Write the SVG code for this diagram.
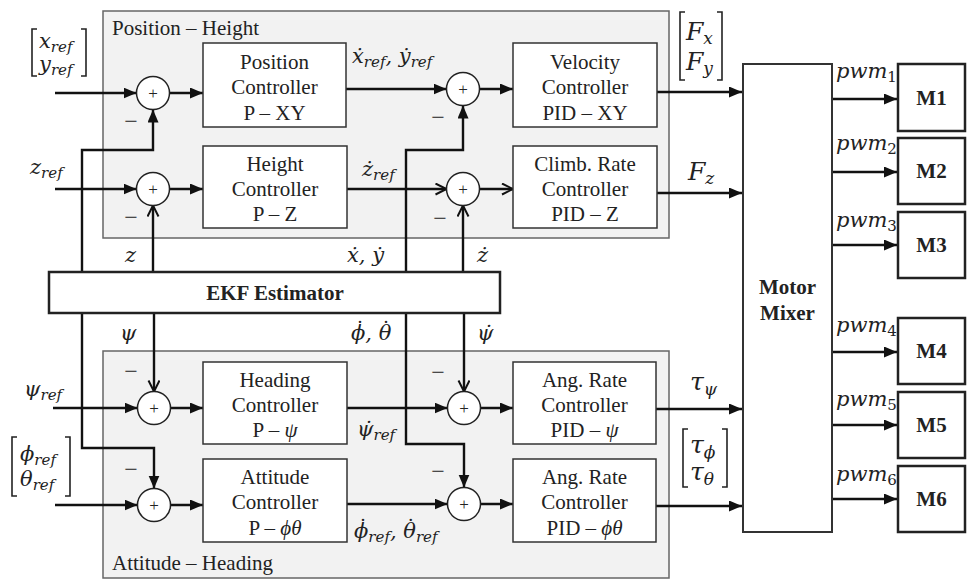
<svg xmlns="http://www.w3.org/2000/svg" width="967" height="580" viewBox="0 0 967 580">
<style>
.grp{fill:#f2f2f2;stroke:#666;stroke-width:1.5}
.box{fill:#fff;stroke:#333;stroke-width:1.5}
.tbox{fill:#fff;stroke:#222;stroke-width:2.5}
.jn{fill:#fff;stroke:#222;stroke-width:1.5}
.t{font-family:"Liberation Serif","Times New Roman",serif;font-size:21px;fill:#222;text-anchor:middle}
.b{font-weight:bold}
.st{text-anchor:start}
.m{font-family:"DejaVu Serif","Liberation Serif",serif;font-style:italic;font-size:21px;fill:#222}
.L{font-size:25px}
.sub{font-size:15px}
.sb{font-size:17px}
.pl{font-family:"Liberation Serif",serif;font-size:17px;fill:#222;text-anchor:middle}
.mi{font-family:"Liberation Serif",serif;font-size:24px;fill:#222;text-anchor:middle}
.c{fill:none;stroke:#111;stroke-width:2.4}
.br{fill:none;stroke:#222;stroke-width:1.6}
</style>
<defs>
<marker id="af" markerUnits="userSpaceOnUse" markerWidth="14" markerHeight="12" refX="13" refY="5.5" orient="auto">
<path d="M0,0 L13,5.5 L0,11 z" fill="#111"/>
</marker>
<marker id="ao" markerUnits="userSpaceOnUse" markerWidth="14" markerHeight="14" refX="12" refY="6" orient="auto">
<path d="M1,0.5 L12,6 L1,11.5" fill="none" stroke="#111" stroke-width="2"/>
</marker>
</defs>

<g id="group-position-height">
<rect class="grp" x="103" y="11" width="566" height="227"/>
<text class="t st" x="112" y="35">Position – Height</text>
</g>
<g id="group-attitude-heading">
<rect class="grp" x="103" y="351" width="566" height="227"/>
<text class="t st" x="112" y="570">Attitude – Heading</text>
</g>

<g id="connectors">
<path class="c" d="M55,93 H136.5" marker-end="url(#af)"/>
<path class="c" d="M169.5,93 H203" marker-end="url(#af)"/>
<path class="c" d="M346,89 H446.5" marker-end="url(#af)"/>
<path class="c" d="M479.5,89 H513" marker-end="url(#af)"/>
<path class="c" d="M657,92 H742" marker-end="url(#af)"/>
<path class="c" d="M55,189 H136.5" marker-end="url(#af)"/>
<path class="c" d="M169.5,189 H203" marker-end="url(#af)"/>
<path class="c" d="M347,189 H446.5" marker-end="url(#ao)"/>
<path class="c" d="M479.5,189 H513" marker-end="url(#ao)"/>
<path class="c" d="M657,193 H742" marker-end="url(#af)"/>
<path class="c" d="M82,272 V150 H153 V109.5" marker-end="url(#af)"/>
<path class="c" d="M153,272 V205.5" marker-end="url(#ao)"/>
<path class="c" d="M406,272 V150 H463 V105.5" marker-end="url(#af)"/>
<path class="c" d="M463,272 V205.5" marker-end="url(#ao)"/>
<path class="c" d="M154,313 V391.5" marker-end="url(#ao)"/>
<path class="c" d="M82,313 V448 H154 V488.5" marker-end="url(#af)"/>
<path class="c" d="M406,313 V444 H464 V487.5" marker-end="url(#af)"/>
<path class="c" d="M464,313 V391.5" marker-end="url(#ao)"/>
<path class="c" d="M53,408 H137.5" marker-end="url(#af)"/>
<path class="c" d="M170.5,408 H203" marker-end="url(#af)"/>
<path class="c" d="M347,408 H447.5" marker-end="url(#af)"/>
<path class="c" d="M480.5,408 H513" marker-end="url(#af)"/>
<path class="c" d="M656,409 H742" marker-end="url(#af)"/>
<path class="c" d="M55,505 H137.5" marker-end="url(#af)"/>
<path class="c" d="M170.5,505 H203" marker-end="url(#af)"/>
<path class="c" d="M347,504 H447.5" marker-end="url(#af)"/>
<path class="c" d="M480.5,504 H513" marker-end="url(#af)"/>
<path class="c" d="M656,506 H742" marker-end="url(#af)"/>
<path class="c" d="M832,99 H897" marker-end="url(#af)"/>
<path class="c" d="M832,172 H897" marker-end="url(#af)"/>
<path class="c" d="M832,245 H897" marker-end="url(#af)"/>
<path class="c" d="M832,352 H897" marker-end="url(#af)"/>
<path class="c" d="M832,425 H897" marker-end="url(#af)"/>
<path class="c" d="M832,499 H897" marker-end="url(#af)"/>
</g>

<g id="sum-xy"><circle class="jn" cx="153" cy="93" r="16.5"/><text class="pl" x="153" y="99">+</text></g>
<g id="sum-vxy"><circle class="jn" cx="463" cy="89" r="16.5"/><text class="pl" x="463" y="95">+</text></g>
<g id="sum-z"><circle class="jn" cx="153" cy="189" r="16.5"/><text class="pl" x="153" y="195">+</text></g>
<g id="sum-vz"><circle class="jn" cx="463" cy="189" r="16.5"/><text class="pl" x="463" y="195">+</text></g>
<g id="sum-psi"><circle class="jn" cx="154" cy="408" r="16.5"/><text class="pl" x="154" y="414">+</text></g>
<g id="sum-rpsi"><circle class="jn" cx="464" cy="408" r="16.5"/><text class="pl" x="464" y="414">+</text></g>
<g id="sum-att"><circle class="jn" cx="154" cy="505" r="16.5"/><text class="pl" x="154" y="511">+</text></g>
<g id="sum-ratt"><circle class="jn" cx="464" cy="504" r="16.5"/><text class="pl" x="464" y="510">+</text></g>

<g id="minus-signs">
<text class="mi" x="131" y="129">−</text>
<text class="mi" x="131" y="225">−</text>
<text class="mi" x="438" y="125">−</text>
<text class="mi" x="440" y="226">−</text>
<text class="mi" x="131" y="379">−</text>
<text class="mi" x="131" y="477">−</text>
<text class="mi" x="438" y="380">−</text>
<text class="mi" x="438" y="479">−</text>
</g>

<g id="position-controller"><rect class="box" x="203" y="43" width="143" height="84"/>
<text class="t" x="274.5" y="69">Position</text><text class="t" x="274.5" y="94">Controller</text><text class="t" x="274.5" y="120">P – XY</text></g>
<g id="velocity-controller"><rect class="box" x="513" y="43" width="144" height="84"/>
<text class="t" x="585" y="69">Velocity</text><text class="t" x="585" y="94">Controller</text><text class="t" x="585" y="120">PID – XY</text></g>
<g id="height-controller"><rect class="box" x="203" y="146" width="144" height="82"/>
<text class="t" x="275" y="171">Height</text><text class="t" x="275" y="196">Controller</text><text class="t" x="275" y="221">P – Z</text></g>
<g id="climb-rate-controller"><rect class="box" x="513" y="146" width="144" height="82"/>
<text class="t" x="585" y="171">Climb. Rate</text><text class="t" x="585" y="196">Controller</text><text class="t" x="585" y="221">PID – Z</text></g>
<g id="heading-controller"><rect class="box" x="203" y="362" width="144" height="82"/>
<text class="t" x="275" y="387">Heading</text><text class="t" x="275" y="412">Controller</text><text class="t" x="275" y="437">P – <tspan font-style="italic">ψ</tspan></text></g>
<g id="ang-rate-controller-psi"><rect class="box" x="513" y="362" width="143" height="82"/>
<text class="t" x="584.5" y="387">Ang. Rate</text><text class="t" x="584.5" y="412">Controller</text><text class="t" x="584.5" y="437">PID – <tspan font-style="italic">ψ</tspan></text></g>
<g id="attitude-controller"><rect class="box" x="203" y="459" width="144" height="83"/>
<text class="t" x="275" y="484">Attitude</text><text class="t" x="275" y="509">Controller</text><text class="t" x="275" y="535">P – <tspan font-style="italic">ϕθ</tspan></text></g>
<g id="ang-rate-controller-att"><rect class="box" x="513" y="459" width="143" height="83"/>
<text class="t" x="584.5" y="484">Ang. Rate</text><text class="t" x="584.5" y="509">Controller</text><text class="t" x="584.5" y="535">PID – <tspan font-style="italic">ϕθ</tspan></text></g>

<g id="ekf-estimator"><rect class="tbox" x="49" y="272" width="451" height="41"/>
<text class="t b" x="275" y="300">EKF Estimator</text></g>
<g id="motor-mixer"><rect class="box" style="stroke-width:2" x="743" y="64" width="89" height="468"/>
<text class="t b" x="787.5" y="294">Motor</text><text class="t b" x="787.5" y="320">Mixer</text></g>
<g id="m1"><rect class="tbox" x="898" y="64" width="67" height="67"/><text class="t b" x="931.5" y="105">M1</text></g>
<g id="m2"><rect class="tbox" x="898" y="138" width="67" height="66"/><text class="t b" x="931.5" y="178">M2</text></g>
<g id="m3"><rect class="tbox" x="898" y="212" width="67" height="66"/><text class="t b" x="931.5" y="252">M3</text></g>
<g id="m4"><rect class="tbox" x="898" y="318" width="67" height="66"/><text class="t b" x="931.5" y="358">M4</text></g>
<g id="m5"><rect class="tbox" x="898" y="392" width="67" height="66"/><text class="t b" x="931.5" y="432">M5</text></g>
<g id="m6"><rect class="tbox" x="898" y="466" width="67" height="66"/><text class="t b" x="931.5" y="506">M6</text></g>

<g id="labels">
<path class="br" d="M37,29 H32 V76 H37 M81,29 H86 V76 H81"/>
<text class="m" x="39" y="48">x<tspan class="sub" dy="4">ref</tspan></text>
<text class="m" x="39" y="71">y<tspan class="sub" dy="4">ref</tspan></text>
<text class="m" x="30" y="174">z<tspan class="sub" dy="4">ref</tspan></text>
<path class="br" d="M685,12 H680 V80 H685 M717,12 H722 V80 H717"/>
<text class="m L" x="686" y="40">F<tspan class="sb" dy="4">x</tspan></text>
<text class="m L" x="686" y="70">F<tspan class="sb" dy="4">y</tspan></text>
<text class="m L" x="688" y="180">F<tspan class="sb" dy="4">z</tspan></text>
<text class="m" x="352" y="63">ẋ<tspan class="sub" dy="4">ref</tspan><tspan dy="-4">, ẏ</tspan><tspan class="sub" dy="4">ref</tspan></text>
<text class="m" x="362" y="176">ż<tspan class="sub" dy="4">ref</tspan></text>
<text class="m" x="125" y="262">z</text>
<text class="m" x="347" y="262">ẋ, ẏ</text>
<text class="m" x="477" y="262">ż</text>
<text class="m" x="120" y="340">ψ</text>
<text class="m" x="351" y="340">ϕ<tspan dx="-10.5" dy="-4" font-style="normal">˙</tspan><tspan dy="4">, θ</tspan><tspan dx="-10.5" dy="-4" font-style="normal">˙</tspan></text>
<text class="m" x="477" y="340">ψ̇</text>
<text class="m" x="24" y="396">ψ<tspan class="sub" dy="4">ref</tspan></text>
<path class="br" d="M17,437 H12 V496 H17 M65,437 H70 V496 H65"/>
<text class="m" x="20" y="461">ϕ<tspan class="sub" dy="4">ref</tspan></text>
<text class="m" x="20" y="486">θ<tspan class="sub" dy="4">ref</tspan></text>
<text class="m" x="357" y="436">ψ̇<tspan class="sub" dy="4">ref</tspan></text>
<text class="m" x="354" y="538">ϕ<tspan dx="-10.5" dy="-4" font-style="normal">˙</tspan><tspan class="sub" dy="8">ref</tspan><tspan dy="-4">, θ</tspan><tspan dx="-10.5" dy="-4" font-style="normal">˙</tspan><tspan class="sub" dy="8">ref</tspan></text>
<text class="m L" x="690" y="390">τ<tspan class="sb" dy="5">ψ</tspan></text>
<path class="br" d="M688,429 H683 V487 H688 M722,429 H727 V487 H722"/>
<text class="m L" x="690" y="453">τ<tspan class="sb" dy="5">ϕ</tspan></text>
<text class="m L" x="690" y="480">τ<tspan class="sb" dy="5">θ</tspan></text>
<text class="m" x="836" y="78">pwm<tspan class="sub" dy="4" font-style="normal">1</tspan></text>
<text class="m" x="836" y="150">pwm<tspan class="sub" dy="4" font-style="normal">2</tspan></text>
<text class="m" x="836" y="227">pwm<tspan class="sub" dy="4" font-style="normal">3</tspan></text>
<text class="m" x="836" y="332">pwm<tspan class="sub" dy="4" font-style="normal">4</tspan></text>
<text class="m" x="836" y="406">pwm<tspan class="sub" dy="4" font-style="normal">5</tspan></text>
<text class="m" x="836" y="481">pwm<tspan class="sub" dy="4" font-style="normal">6</tspan></text>
</g>
</svg>
